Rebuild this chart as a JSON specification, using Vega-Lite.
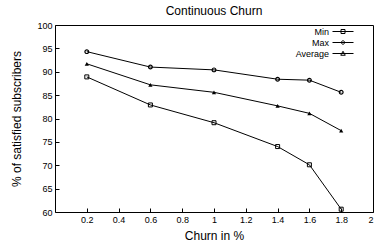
{
  "$schema": "https://vega.github.io/schema/vega-lite/v6.json",
  "width": 318,
  "height": 187,
  "autosize": "none",
  "padding": {"left": 55, "top": 25, "right": 3, "bottom": 37},
  "background": "white",
  "title": {"text": "Continuous Churn", "font": "Liberation Sans", "fontSize": 12, "fontWeight": "normal", "color": "black", "offset": 3},
  "config": {
    "view": {"stroke": "black", "strokeWidth": 1},
    "axis": {"labelFont": "Liberation Sans", "titleFont": "Liberation Sans", "labelFontSize": 9, "titleFontSize": 12, "titleFontWeight": "normal", "labelColor": "black", "titleColor": "black", "grid": false, "domain": false, "tickColor": "black", "tickSize": -4, "labelPadding": 7}
  },
  "data": {"values": [
    {"churn": 0.2, "series": "Min", "value": 88.9},
    {"churn": 0.6, "series": "Min", "value": 82.9},
    {"churn": 1.0, "series": "Min", "value": 79.1},
    {"churn": 1.4, "series": "Min", "value": 74.0},
    {"churn": 1.6, "series": "Min", "value": 70.1},
    {"churn": 1.8, "series": "Min", "value": 60.6},
    {"churn": 0.2, "series": "Max", "value": 94.3},
    {"churn": 0.6, "series": "Max", "value": 91.0},
    {"churn": 1.0, "series": "Max", "value": 90.4},
    {"churn": 1.4, "series": "Max", "value": 88.4},
    {"churn": 1.6, "series": "Max", "value": 88.2},
    {"churn": 1.8, "series": "Max", "value": 85.6},
    {"churn": 0.2, "series": "Average", "value": 91.7},
    {"churn": 0.6, "series": "Average", "value": 87.2},
    {"churn": 1.0, "series": "Average", "value": 85.6},
    {"churn": 1.4, "series": "Average", "value": 82.7},
    {"churn": 1.6, "series": "Average", "value": 81.1},
    {"churn": 1.8, "series": "Average", "value": 77.4}
  ]},
  "encoding": {
    "x": {"field": "churn", "type": "quantitative", "scale": {"domain": [0, 2], "nice": false, "zero": false},
      "axis": {"title": "Churn in %", "values": [0.2, 0.4, 0.6, 0.8, 1, 1.2, 1.4, 1.6, 1.8, 2], "labelExpr": "'' + datum.value", "titlePadding": 6}},
    "y": {"field": "value", "type": "quantitative", "scale": {"domain": [60, 100], "nice": false, "zero": false},
      "axis": {"title": "% of satisfied subscribers", "values": [60, 65, 70, 75, 80, 85, 90, 95, 100], "titlePadding": 13}}
  },
  "layer": [
    {"mark": {"type": "line", "color": "black", "strokeWidth": 1}, "encoding": {"detail": {"field": "series"}}},
    {"transform": [{"filter": "datum.series == 'Min'"}], "mark": {"type": "point", "shape": "square", "filled": false, "stroke": "black", "strokeWidth": 1, "size": 16, "opacity": 1}},
    {"transform": [{"filter": "datum.series == 'Max'"}], "mark": {"type": "point", "shape": "circle", "filled": false, "stroke": "black", "strokeWidth": 1.2, "size": 14, "opacity": 1}},
    {"transform": [{"filter": "datum.series == 'Average'"}], "mark": {"type": "point", "shape": "triangle-up", "filled": true, "fill": "black", "size": 18, "opacity": 1}},
    {"transform": [{"filter": "datum.churn > 100"}],
      "mark": {"type": "point", "filled": false, "color": "black", "opacity": 1},
      "encoding": {
        "shape": {"field": "series", "type": "nominal",
          "scale": {"domain": ["Min", "Max", "Average"], "range": [
            "M-2.1,0L2.1,0M-0.4,-0.4L0.4,-0.4L0.4,0.4L-0.4,0.4Z",
            "M-2.1,0L2.1,0M0.34,0A0.34,0.34 0 1,1 -0.34,0A0.34,0.34 0 1,1 0.34,0Z",
            "M-2.1,0L2.1,0M0,-0.45L0.45,0.35L-0.45,0.35Z"]},
          "legend": {"title": null, "orient": "none", "legendX": 282.5, "legendY": 1, "symbolSize": 100, "symbolStrokeColor": "black", "symbolStrokeWidth": 1, "symbolFillColor": "transparent", "symbolOpacity": 1, "labelAlign": "right", "labelOffset": -19.5, "labelFont": "Liberation Sans", "labelFontSize": 9, "labelColor": "black", "rowPadding": 0, "labelLimit": 100, "padding": 0}}
      }
    }
  ]
}
